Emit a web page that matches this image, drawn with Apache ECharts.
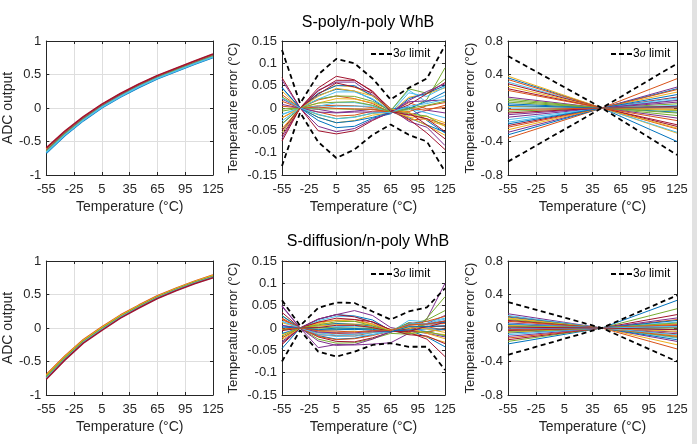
<!DOCTYPE html>
<html><head><meta charset="utf-8">
<script src="https://cdn.jsdelivr.net/npm/echarts@6/dist/echarts.min.js"></script>
<style>html,body{margin:0;padding:0;background:#fff}#c{width:697px;height:444px}</style>
</head><body><div id="c"></div>
<script>
// ---------------- data ----------------
const temps = [-55, -35, -15, 5, 25, 45, 65, 85, 105, 125];
const linTemps = [-55, 45, 125];

const titles = ['S-poly/n-poly WhB', 'S-diffusion/n-poly WhB'];
const xName = 'Temperature (°C)';
const yNames = ['ADC output', 'Temperature error (°C)', 'Temperature error (°C)'];
const xTickRange = [-55, 125, 30];
const yRangeAdc = [-1, 1, 0.5];
const yRangeErr = [-0.15, 0.15, 0.05];
const yRangeLin = [-0.8, 0.8, 0.4];
const legendName = '3σ limit';

const adcPoly = [
  [-0.675,-0.414,-0.190,0.002,0.163,0.307,0.435,0.545,0.652,0.755],
  [-0.608,-0.357,-0.140,0.049,0.208,0.350,0.477,0.587,0.694,0.797],
  [-0.622,-0.369,-0.150,0.039,0.199,0.342,0.468,0.578,0.685,0.788],
  [-0.635,-0.380,-0.160,0.030,0.190,0.333,0.460,0.570,0.677,0.780],
  [-0.648,-0.391,-0.170,0.021,0.181,0.324,0.452,0.562,0.669,0.772],
  [-0.662,-0.403,-0.180,0.011,0.172,0.316,0.443,0.553,0.660,0.763],
  [-0.595,-0.346,-0.130,0.058,0.217,0.359,0.485,0.595,0.702,0.805]
];
const adcDiff = [
  [-0.720,-0.441,-0.192,-0.002,0.178,0.327,0.466,0.581,0.686,0.776],
  [-0.695,-0.420,-0.174,0.015,0.193,0.342,0.480,0.593,0.698,0.790],
  [-0.709,-0.432,-0.184,0.005,0.184,0.333,0.472,0.586,0.691,0.782],
  [-0.741,-0.459,-0.208,-0.018,0.162,0.313,0.454,0.569,0.674,0.764],
  [-0.730,-0.450,-0.200,-0.010,0.170,0.320,0.460,0.575,0.680,0.770],
  [-0.751,-0.468,-0.216,-0.025,0.156,0.307,0.448,0.564,0.669,0.758],
  [-0.765,-0.480,-0.226,-0.035,0.147,0.298,0.440,0.557,0.662,0.750]
];

const errPoly = [
  [-0.036,0,0.028,0.042,0.038,0.019,-0.008,-0.022,-0.038,-0.054],
  [0.004,0,0.005,0.006,0.005,0.001,-0.006,-0.027,-0.024,-0.037],
  [0.038,0,-0.021,-0.033,-0.028,-0.016,-0.011,0.024,0.032,0.045],
  [-0.068,0,0.040,0.058,0.058,0.029,-0.001,-0.030,-0.043,-0.084],
  [0.025,0,-0.015,-0.024,-0.020,-0.012,-0.008,-0.004,0.019,0.090],
  [-0.014,0,0.004,0.012,0.012,0.006,-0.007,0.040,0.013,0.028],
  [-0.074,0,0.045,0.071,0.063,0.036,-0.002,-0.025,-0.056,-0.093],
  [0.046,0,-0.028,-0.044,-0.041,-0.023,-0.013,0.021,0.033,0.050],
  [-0.022,0,0.018,0.027,0.021,0.010,-0.010,0.012,-0.002,0.001],
  [-0.046,0,0.032,0.051,0.047,0.027,-0.006,-0.020,-0.039,-0.061],
  [0.020,0,-0.003,-0.010,-0.007,-0.003,-0.009,-0.016,-0.005,-0.011],
  [-0.002,0,-0.002,-0.002,-0.003,-0.003,-0.006,0.043,0.033,0.065],
  [-0.015,0,0.001,0.004,0.004,0.004,-0.011,0.034,0.026,0.047],
  [0.068,0,-0.051,-0.058,-0.051,-0.028,-0.009,0.007,0.032,0.057],
  [-0.055,0,0.033,0.050,0.050,0.027,-0.003,0.002,-0.028,-0.056],
  [0.030,0,-0.009,-0.018,-0.016,-0.007,-0.008,-0.001,-0.005,0.006],
  [-0.022,0,0.011,0.021,0.020,0.012,-0.005,-0.021,-0.019,-0.033],
  [0.062,0,-0.041,-0.053,-0.046,-0.026,-0.010,0.017,0.037,0.054],
  [-0.035,0,0.020,0.027,0.026,0.015,-0.006,-0.013,-0.018,-0.041],
  [-0.029,0,0.020,0.036,0.036,0.021,-0.006,-0.001,-0.011,-0.022],
  [-0.062,0,0.038,0.062,0.062,0.038,-0.005,-0.010,-0.038,-0.069],
  [0.045,0,-0.021,-0.033,-0.029,-0.021,-0.010,-0.001,0.015,0.036],
  [0.015,0,0.002,-0.001,-0.002,-0.003,-0.009,-0.008,0.005,0.012],
  [-0.055,0,0.026,0.044,0.038,0.027,-0.002,-0.010,-0.027,-0.040],
  [0.008,0,-0.009,-0.011,-0.009,-0.009,-0.011,0.014,0.016,0.018],
  [-0.007,0,0.011,0.013,0.014,0.006,-0.009,-0.001,0.006,0.015],
  [0.022,0,-0.014,-0.024,-0.021,-0.011,-0.010,0.004,0.010,0.019],
  [-0.050,0,0.031,0.056,0.047,0.034,-0.008,-0.015,-0.024,-0.053]
];
const sigmaPolyUp = [0.130,0.010,0.075,0.110,0.100,0.066,0.019,0.045,0.066,0.140];
const sigmaPolyLo = [-0.130,-0.010,-0.076,-0.112,-0.093,-0.060,-0.037,-0.060,-0.075,-0.142];

const errDiff = [
  [-0.046,0,0.019,0.030,0.027,0.018,-0.006,-0.005,-0.020,-0.042],
  [0.019,0,-0.011,-0.012,-0.014,-0.009,-0.006,-0.001,0.008,0.010],
  [-0.022,0,0.009,0.010,0.009,0.007,-0.003,-0.011,-0.020,-0.032],
  [0.050,0,-0.044,-0.037,-0.038,-0.036,-0.033,-0.012,0.020,0.100],
  [0.028,0,-0.025,-0.034,-0.033,-0.024,-0.012,-0.014,0.022,0.070],
  [-0.033,0,0.016,0.026,0.026,0.013,-0.008,0.000,-0.008,-0.018],
  [-0.034,0,0.020,0.030,0.025,0.013,-0.004,-0.010,-0.025,-0.064],
  [0.027,0,-0.017,-0.025,-0.023,-0.015,-0.008,-0.006,-0.008,-0.003],
  [-0.022,0,0.013,0.017,0.019,0.009,-0.009,0.005,0.003,-0.005],
  [0.012,0,-0.007,-0.010,-0.008,-0.009,-0.007,-0.009,-0.010,-0.015],
  [-0.030,0,0.020,0.030,0.039,0.028,0.001,-0.006,-0.012,-0.020],
  [-0.004,0,-0.002,-0.003,-0.004,-0.001,-0.005,0.008,0.018,0.039],
  [-0.012,0,0.001,0.003,0.004,0.001,-0.007,0.011,0.007,0.016],
  [0.035,0,-0.020,-0.030,-0.031,-0.022,-0.009,-0.001,0.002,0.013],
  [-0.013,0,0.005,0.010,0.008,0.004,-0.008,0.007,0.010,0.013],
  [0.020,0,-0.015,-0.017,-0.018,-0.010,-0.007,-0.005,-0.010,0.000],
  [-0.026,0,0.010,0.018,0.015,0.009,-0.005,0.000,-0.012,-0.024],
  [0.048,0,-0.029,-0.039,-0.037,-0.025,-0.008,0.011,0.010,0.028],
  [-0.004,0,0.002,0.000,0.000,-0.001,-0.006,-0.013,-0.008,-0.017],
  [0.015,0,-0.010,-0.016,-0.014,-0.011,-0.009,0.017,0.014,0.022],
  [-0.037,0,0.013,0.022,0.019,0.014,-0.004,-0.015,-0.018,-0.035],
  [0.005,0,-0.005,-0.004,-0.003,-0.005,-0.008,-0.004,-0.002,-0.003],
  [0.022,0,-0.019,-0.026,-0.024,-0.017,-0.006,0.008,0.015,0.026],
  [-0.015,0,0.005,0.007,0.007,0.002,-0.005,0.003,-0.002,-0.010],
  [0.006,0,-0.009,-0.011,-0.011,-0.007,-0.009,0.011,0.009,0.016],
  [-0.018,0,0.007,0.014,0.015,0.005,-0.007,0.012,0.003,0.004],
  [0.015,0,-0.014,-0.019,-0.018,-0.015,-0.007,0.009,0.010,0.020],
  [-0.006,0,0.001,0.006,0.006,0.001,-0.008,-0.008,0.004,0.004],
  [0.002,0,-0.004,0.000,-0.001,-0.003,-0.009,0.003,0.003,0.005],
  [-0.002,0,-0.006,-0.007,-0.009,-0.006,-0.006,0.007,0.009,0.015]
];
const sigmaDiffUp = [0.062,0.005,0.045,0.057,0.056,0.037,0.019,0.037,0.046,0.089];
const sigmaDiffLo = [-0.075,-0.005,-0.053,-0.064,-0.053,-0.038,-0.034,-0.042,-0.042,-0.094];

const linPoly = [
  [0.36,0,-0.40],[-0.36,0,0.35],[0.38,0,-0.30],[-0.29,0,0.25],[0.09,0,-0.09],
  [0.31,0,-0.29],[-0.21,0,0.13],[-0.32,0,0.23],[0.34,0,-0.25],[-0.26,0,0.19],
  [0.13,0,-0.12],[-0.04,0,0.05],[-0.17,0,0.10],[0.29,0,-0.22],[0.05,0,-0.05],
  [-0.23,0,0.22],[0.26,0,-0.24],[-0.11,0,0.07],[0.07,0,-0.03],[-0.14,0,0.12],
  [0.23,0,-0.20],[-0.19,0,0.16],[0.21,0,-0.15],[0.02,0,-0.02],[-0.08,0,0.09],
  [0.11,0,-0.06],[0.00,0,0.03],[-0.06,0,0.02],[0.03,0,0.01],[-0.02,0,0.00]
];
const sigmaLinPolyUp = [0.62,0,0.53];
const sigmaLinPolyLo = [-0.64,0,-0.56];

const linDiff = [
  [-0.19,0,0.33],[0.14,0,-0.25],[0.11,0,-0.20],[0.17,0,-0.16],[-0.16,0,0.23],
  [0.15,0,-0.12],[-0.14,0,0.16],[0.13,0,-0.14],[-0.12,0,0.10],[0.12,0,-0.09],
  [-0.10,0,0.12],[0.10,0,-0.11],[-0.08,0,0.07],[0.09,0,-0.07],[-0.06,0,0.09],
  [0.08,0,-0.10],[-0.05,0,0.05],[0.06,0,-0.05],[-0.04,0,0.06],[0.05,0,-0.08],
  [-0.03,0,0.03],[0.04,0,-0.02],[-0.02,0,0.04],[0.03,0,-0.04],[-0.01,0,0.01],
  [0.02,0,0.00],[0.00,0,0.02],[0.01,0,-0.02]
];
const sigmaLinDiffUp = [0.31,0,0.39];
const sigmaLinDiffLo = [-0.32,0,-0.40];

// ---------------- styling ----------------
const palette = ['#0072BD','#D95319','#EDB120','#7E2F8E','#77AC30','#4DBEEE','#A2142F'];
const FONT = '"Liberation Sans", Arial, Helvetica, sans-serif';
const INK = '#262626';
const grids = [
  {left:45, top:41, width:168, height:134},
  {left:282, top:41, width:163, height:134},
  {left:508, top:41, width:169, height:134},
  {left:45, top:261, width:168, height:134},
  {left:282, top:261, width:163, height:134},
  {left:508, top:261, width:169, height:134}
];
const yRanges = [yRangeAdc, yRangeErr, yRangeLin, yRangeAdc, yRangeErr, yRangeLin];
const yGaps = [28, 42, 29, 28, 42, 29];
const ySizes = [14, 13, 13, 14, 13, 13];
const fmt = v => String(Math.round(v * 1000) / 1000);

const xAxis = [], yAxis = [];
for (let i = 0; i < 6; i++) {
  xAxis.push({
    type:'value', gridIndex:i, min:xTickRange[0], max:xTickRange[1], interval:xTickRange[2],
    position:'bottom', name:xName, nameLocation:'middle', nameGap:25,
    nameTextStyle:{fontSize:14, color:INK, fontFamily:FONT},
    axisLine:{show:true, onZero:false, lineStyle:{color:INK, width:1}},
    axisTick:{show:true, inside:true, length:3, lineStyle:{color:INK}},
    axisLabel:{fontSize:13, color:INK, margin:8, fontFamily:FONT, showMinLabel:true, showMaxLabel:true, hideOverlap:false},
    splitLine:{show:true, lineStyle:{color:'#dedede', width:1}}
  });
  const r = yRanges[i];
  yAxis.push({
    type:'value', gridIndex:i, min:r[0], max:r[1], interval:r[2], position:'left',
    name:yNames[i % 3], nameLocation:'middle', nameGap:yGaps[i],
    nameTextStyle:{fontSize:ySizes[i], color:INK, fontFamily:FONT},
    axisLine:{show:true, onZero:false, lineStyle:{color:INK, width:1}},
    axisTick:{show:true, inside:true, length:3, lineStyle:{color:INK}},
    axisLabel:{fontSize:13, color:INK, margin:5, fontFamily:FONT, formatter:fmt, showMinLabel:true, showMaxLabel:true, hideOverlap:false},
    splitLine:{show:true, lineStyle:{color:'#dedede', width:1}}
  });
}
for (let i = 0; i < 6; i++) {
  xAxis.push({
    type:'value', gridIndex:i, min:xTickRange[0], max:xTickRange[1], interval:xTickRange[2], position:'top',
    axisLine:{show:true, onZero:false, lineStyle:{color:INK, width:1}},
    axisTick:{show:true, inside:true, length:3, lineStyle:{color:INK}},
    axisLabel:{show:false}, splitLine:{show:false}
  });
  const r = yRanges[i];
  yAxis.push({
    type:'value', gridIndex:i, min:r[0], max:r[1], interval:r[2], position:'right',
    axisLine:{show:true, onZero:false, lineStyle:{color:INK, width:1}},
    axisTick:{show:true, inside:true, length:3, lineStyle:{color:INK}},
    axisLabel:{show:false}, splitLine:{show:false}
  });
}

const series = [];
function addLines(gi, xs, rows, width) {
  rows.forEach((r, i) => {
    const c = palette[i % 7];
    series.push({type:'line', xAxisIndex:gi, yAxisIndex:gi, data:xs.map((x, k) => [x, r[k]]),
      symbol:'none', showSymbol:false, lineStyle:{width:width, color:c}, itemStyle:{color:c},
      silent:true, animation:false, z:2});
  });
}
function addSigma(gi, xs, up, lo) {
  [up, lo].forEach(r => {
    series.push({type:'line', name:legendName, xAxisIndex:gi, yAxisIndex:gi, data:xs.map((x, k) => [x, r[k]]),
      symbol:'none', showSymbol:false, lineStyle:{width:1.8, color:'#000', type:[5,3.5]}, itemStyle:{color:'#000'},
      silent:true, animation:false, z:3});
  });
}
addLines(0, temps, adcPoly, 1.6);
addLines(1, temps, errPoly, 1);
addSigma(1, temps, sigmaPolyUp, sigmaPolyLo);
addLines(2, linTemps, linPoly, 1);
addSigma(2, linTemps, sigmaLinPolyUp, sigmaLinPolyLo);
addLines(3, temps, adcDiff, 1.6);
addLines(4, temps, errDiff, 1);
addSigma(4, temps, sigmaDiffUp, sigmaDiffLo);
addLines(5, linTemps, linDiff, 1);
addSigma(5, linTemps, sigmaLinDiffUp, sigmaLinDiffLo);

// legend drawn as graphic: dashed sample line + rich text
function legendGraphic(x, y) {
  return [
    {type:'line', shape:{x1:x, y1:y, x2:x + 21, y2:y}, style:{stroke:'#000', lineWidth:1.8, lineDash:[5,3]}, silent:true, z:10},
    {type:'text', x:x + 22, y:y, style:{text:'3{s|σ} limit', fill:'#000', fontSize:12, fontFamily:FONT, verticalAlign:'middle', align:'left',
      rich:{s:{fontSize:12, fontStyle:'italic', fontFamily:'"Liberation Serif", serif', fill:'#000'}}}, silent:true, z:10}
  ];
}

const option = {
  animation:false,
  backgroundColor:'#fff',
  title:[
    {text:titles[0], left:363, top:10, textAlign:'center', textStyle:{fontSize:16, fontWeight:'normal', color:'#000', fontFamily:FONT}},
    {text:titles[1], left:363, top:229, textAlign:'center', textStyle:{fontSize:16, fontWeight:'normal', color:'#000', fontFamily:FONT}}
  ],
  grid:grids.map(g => Object.assign({containLabel:false}, g)),
  xAxis:xAxis, yAxis:yAxis, series:series,
  graphic:[].concat(
    [{type:'rect', shape:{x:692, y:0, width:5, height:444}, style:{fill:'#e2e2e2'}, silent:true}],
    legendGraphic(371, 54), legendGraphic(611, 54), legendGraphic(371, 274), legendGraphic(611, 274)
  )
};
const chart = echarts.init(document.getElementById('c'));
chart.setOption(option);
</script></body></html>
